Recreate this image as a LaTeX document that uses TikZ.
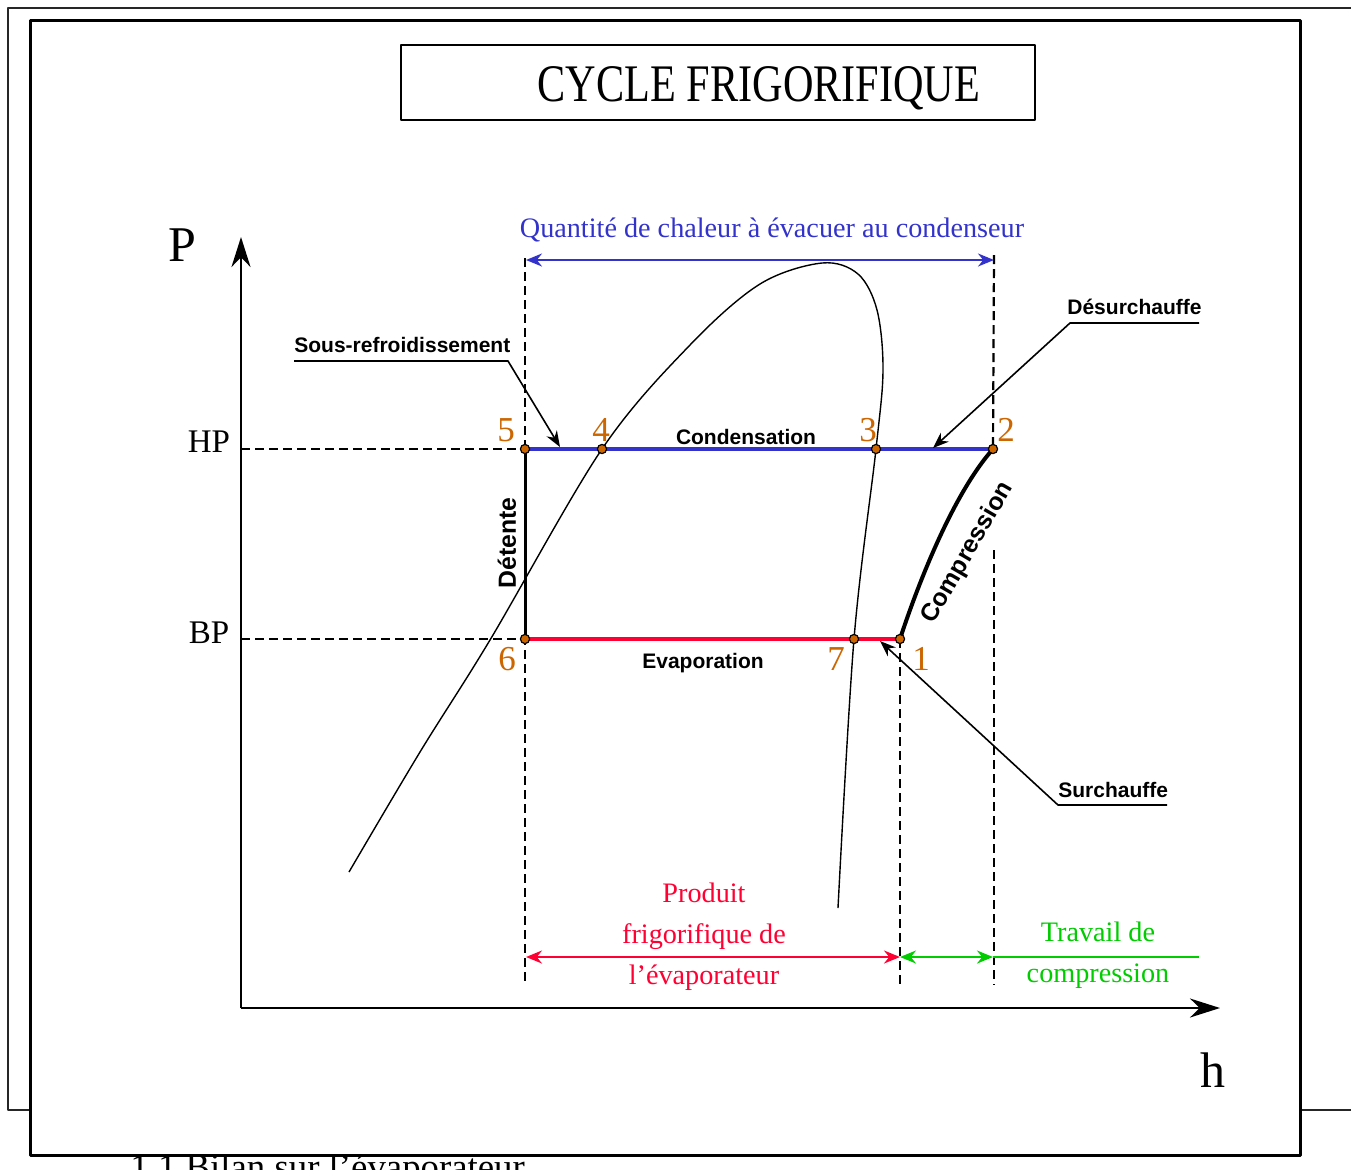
\documentclass[tikz,border=0pt]{standalone}
\usepackage{fontspec}
\setmainfont{Liberation Serif}
\setsansfont{Liberation Sans}
\newfontfamily\titlefont[FakeStretch=0.8]{Liberation Serif}
\usetikzlibrary{arrows.meta, positioning}

\definecolor{condblue}{RGB}{51,51,204}
\definecolor{evapred}{RGB}{255,0,51}
\definecolor{workgreen}{RGB}{0,204,0}
\definecolor{ptorange}{RGB}{204,102,0}

\begin{document}
\begin{tikzpicture}[x=0.5pt, y=-0.5pt, >=Stealth, line join=round]

  % Stili
  \tikzstyle{pt} = [circle, draw=black, fill=ptorange, line width=0.6pt, minimum size=4.6pt, inner sep=0pt]
  \tikzstyle{num} = [text=ptorange, font=\fontsize{17.5}{20}\selectfont, inner sep=0pt]
  \tikzstyle{lbl} = [font=\sffamily\bfseries\fontsize{10.5}{12}\selectfont, inner sep=0pt]
  \tikzstyle{biglbl} = [font=\sffamily\bfseries\fontsize{12.4}{14}\selectfont, inner sep=0pt]
  \tikzstyle{axlbl} = [font=\fontsize{25}{28}\selectfont, inner sep=0pt]
  \tikzstyle{guide} = [dash pattern=on 4.5pt off 2.5pt, line width=1.1pt]
  \tikzstyle{qty} = [font=\fontsize{14.1}{20.5}\selectfont, align=center, inner sep=0pt]
  \tikzstyle{callout} = [line width=0.8pt, -{Stealth[length=8pt, width=6pt]}]
  \tikzstyle{span} = [line width=1.1pt, {Stealth[length=8pt, width=6.5pt]}-{Stealth[length=8pt, width=6.5pt]}]

  \useasboundingbox (0,0) rectangle (1351,1169);

  % Cadre de page
  \draw[line width=1pt, black!85] (1351,8) -- (8,8) -- (8,1110) -- (1351,1110);
  \node[anchor=base west, font=\fontsize{18.4}{20}\selectfont, inner sep=0pt] (bilan) at (130,1179) {1.1 Bilan sur l’évaporateur};
  \draw[line width=1.5pt, fill=white] (30,20) rectangle (1300,1155);

  % Titre
  \node[draw, line width=1pt, minimum width=317pt, minimum height=37.5pt] (titlebox) at (718,82.5) {};
  \node[font=\titlefont\fontsize{26.4}{30}\selectfont, anchor=base, inner sep=0pt] (title) at (759,101) {CYCLE FRIGORIFIQUE};

  % Points du cycle
  \coordinate (c5) at (525,449);
  \coordinate (c4) at (602,449);
  \coordinate (c3) at (876,449);
  \coordinate (c2) at (993,449);
  \coordinate (c6) at (525,639);
  \coordinate (c7) at (854,639);
  \coordinate (c1) at (900,639);

  % Axes
  \coordinate (O) at (241,1008);
  \coordinate (ptop) at (241,237);
  \coordinate (hend) at (1220,1008);
  \coordinate (hp) at (241,449);
  \coordinate (bp) at (241,639);
  \draw[line width=1.2pt, -{Stealth[length=15pt, width=9.5pt]}] (O) -- (ptop);
  \draw[line width=1.2pt, -{Stealth[length=15pt, width=9.5pt]}] (O) -- (hend);
  \node[axlbl] (P) at (182,245) {P};
  \node[axlbl] (h) at (1213,1070) {h};
  \node[font=\fontsize{16.5}{18}\selectfont, inner sep=0pt] (HP) at (209,442) {HP};
  \node[font=\fontsize{16.5}{18}\selectfont, inner sep=0pt] (BP) at (209,633) {BP};

  % Pointilles
  \coordinate (q5) at (525,258);
  \coordinate (b5) at (525,985);
  \coordinate (q2) at (994,255);
  \coordinate (m2) at (994,550);
  \coordinate (b2) at (994,985);
  \coordinate (b1) at (900,985);
  \draw[guide] (hp) -- (c5);
  \draw[guide] (bp) -- (c6);
  \draw[guide] (q5) -- (b5);
  \draw[guide] (q2) -- (c2);
  \draw[guide] (m2) -- (b2);
  \draw[guide] (c1) -- (b1);

  % Courbe de saturation
  \draw[line width=0.7pt] plot[smooth, tension=0.55] coordinates {(349,872) (420,752) (490,640) (c4) (690,345) (760,284) (822,263) (858,274) (877,310) (883,370) (c3) (c7) (838,908)};

  % Cycle
  \draw[condblue, line width=2pt] (c5) -- (c2);
  \draw[evapred, line width=2pt] (c6) -- (c1);
  \draw[line width=1.5pt] (c5) -- (c6);
  \draw[line width=2pt] (c1) .. controls (918,584) and (953,494) .. (c2);

  \node[pt] (d5) at (c5) {};
  \node[pt] (d4) at (c4) {};
  \node[pt] (d3) at (c3) {};
  \node[pt] (d2) at (c2) {};
  \node[pt] (d6) at (c6) {};
  \node[pt] (d7) at (c7) {};
  \node[pt] (d1) at (c1) {};

  \node[num] (n5) at (506,430) {5};
  \node[num] (n4) at (601,430) {4};
  \node[num] (n3) at (868,430) {3};
  \node[num] (n2) at (1006,430) {2};
  \node[num] (n6) at (507,659) {6};
  \node[num] (n7) at (836,659) {7};
  \node[num] (n1) at (921,659) {1};

  \node[lbl] (cond) at (746,437) {Condensation};
  \node[lbl] (evap) at (703,663) {Evaporation};
  \node[biglbl, rotate=90] (det) at (507,543) {Détente};
  \node[biglbl, rotate=60] (comp) at (968,553) {Compression};

  % Legendes
  \node[lbl, anchor=base west] (sr) at (294,352) {Sous-refroidissement};
  \coordinate (sr-l) at (294,361);
  \coordinate (sr-r) at (508,361);
  \coordinate (sr-t) at (560,447);
  \draw[callout] (sr-l) -- (sr-r) -- (sr-t);

  \node[lbl, anchor=base west] (ds) at (1067,314) {Désurchauffe};
  \coordinate (ds-l) at (1070,323);
  \coordinate (ds-r) at (1199,323);
  \coordinate (ds-t) at (933,448);
  \draw[callout] (ds-r) -- (ds-l) -- (ds-t);

  \node[lbl, anchor=base west] (su) at (1058,797) {Surchauffe};
  \coordinate (su-l) at (1058,805);
  \coordinate (su-r) at (1167,805);
  \coordinate (su-t) at (880,641);
  \draw[callout] (su-r) -- (su-l) -- (su-t);

  % Quantites
  \coordinate (qa-l) at (526,260);
  \coordinate (qa-r) at (994,260);
  \draw[span, condblue] (qa-l) -- (qa-r);
  \node[qty, text=condblue] (qtxt) at (772,230) {Quantité de chaleur à évacuer au condenseur};

  \coordinate (pa-l) at (526,957);
  \coordinate (pa-r) at (900,957);
  \coordinate (ta-r) at (993,957);
  \coordinate (ta-e) at (1199,957);
  \draw[span, evapred] (pa-l) -- (pa-r);
  \draw[span, workgreen] (pa-r) -- (ta-r);
  \draw[line width=1.1pt, workgreen] (ta-r) -- (ta-e);
  \node[qty, text=evapred] (prod) at (704,937) {Produit\\frigorifique de\\l’évaporateur};
  \node[qty, text=workgreen] (trav) at (1098,955) {Travail de\\compression};

\end{tikzpicture}
\end{document}
